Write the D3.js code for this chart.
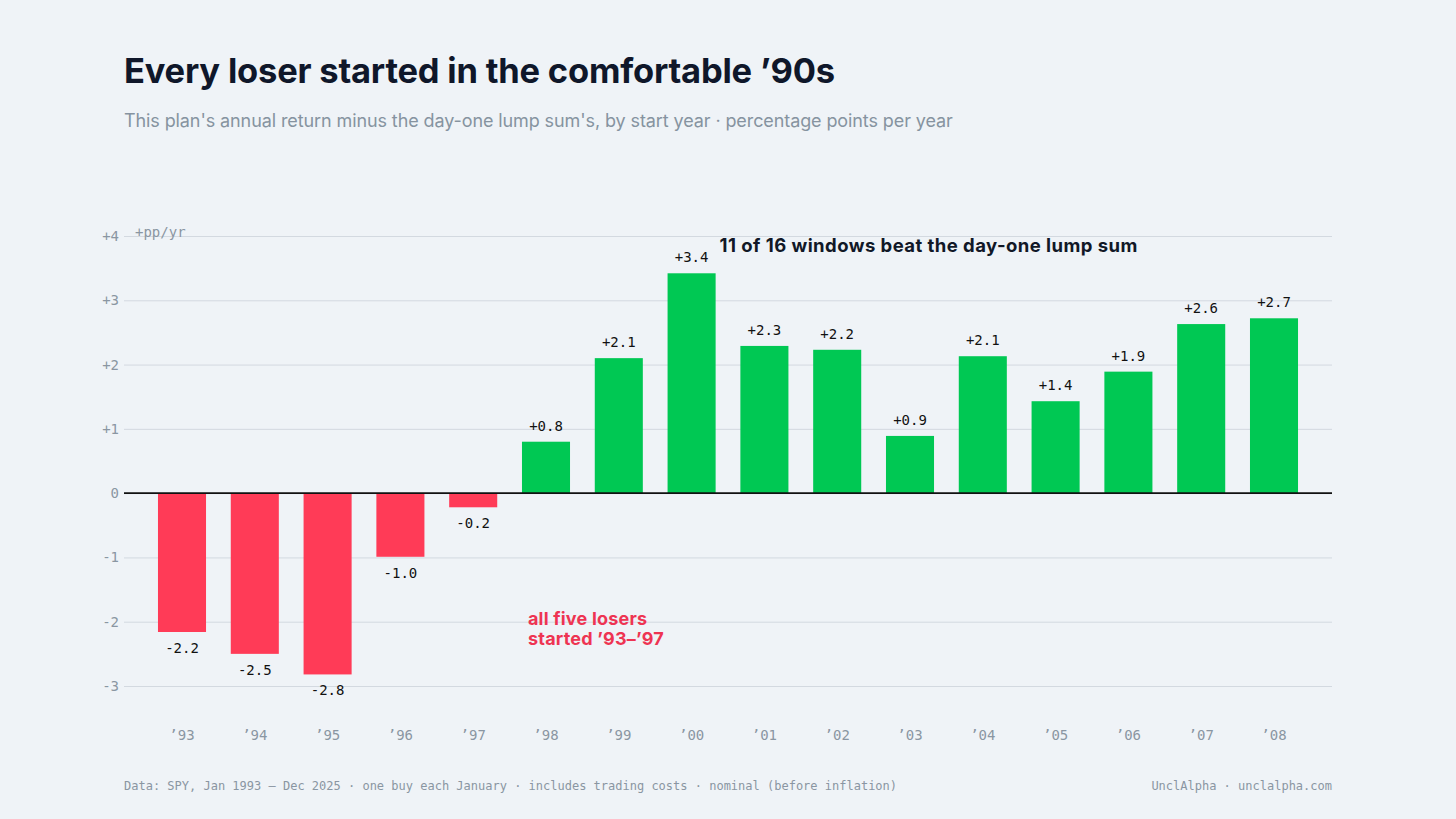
<!DOCTYPE html>
<html>
<head>
<meta charset="utf-8">
<title>Every loser started in the comfortable '90s</title>
<script src="https://d3js.org/d3.v7.min.js"></script>
<style>
  html, body { margin: 0; padding: 0; background: #eff3f7; }
  svg { display: block; }
</style>
</head>
<body>
<script>
// start years and excess return vs lump sum (pp per year)
const years = ["\u201993", "\u201994", "\u201995", "\u201996", "\u201997", "\u201998", "\u201999", "\u201900",
               "\u201901", "\u201902", "\u201903", "\u201904", "\u201905", "\u201906", "\u201907", "\u201908"];
const excess = [-2.16, -2.5, -2.82, -0.99, -0.22, 0.8, 2.1, 3.42, 2.29, 2.23, 0.89, 2.13, 1.43, 1.89, 2.63, 2.72];
const yTicks = [-3, -2, -1, 0, 1, 2, 3, 4];

const W = 1456, H = 819;
const mono = "'DejaVu Sans Mono', monospace";
const sans = "Inter, 'Noto Sans', sans-serif";

const svg = d3.select("body").append("svg")
    .attr("width", W).attr("height", H);

svg.append("rect").attr("width", W).attr("height", H).attr("fill", "#eff3f7");

const left = 124, right = 1332;

const x = d3.scaleBand()
    .domain(years)
    .range([145.6, 1310.4])
    .paddingInner(0.34)
    .paddingOuter(0.17);

const y = d3.scaleLinear()
    .domain([-3, 4])
    .range([686, 236]);

// titles
svg.append("text")
    .attr("x", left).attr("y", 83)
    .attr("font-family", sans).attr("font-weight", 700).attr("font-size", 34.5)
    .attr("fill", "#0f172a").attr("letter-spacing", "-0.2")
    .text("Every loser started in the comfortable \u201990s");

svg.append("text")
    .attr("x", left).attr("y", 127)
    .attr("font-family", sans).attr("font-size", 18)
    .attr("fill", "#8693a0").attr("letter-spacing", "-0.1")
    .text("This plan's annual return minus the day-one lump sum's, by start year \u00b7 percentage points per year");

// grid + y axis
const yAxis = d3.axisLeft(y)
    .tickValues(yTicks)
    .tickSize(-(right - left))
    .tickPadding(5)
    .tickFormat(d => d > 0 ? "+" + d : (d < 0 ? "-" + Math.abs(d) : "0"));

const gy = svg.append("g")
    .attr("transform", `translate(${left},0)`)
    .call(yAxis);
gy.select(".domain").remove();
gy.selectAll(".tick line").attr("stroke", "#d3d9e0").attr("stroke-width", 1);
gy.selectAll(".tick text")
    .attr("font-family", mono).attr("font-size", 14).attr("fill", "#8a96a2");

svg.append("text")
    .attr("x", 135).attr("y", y(4) + 1)
    .attr("font-family", mono).attr("font-size", 14).attr("fill", "#8a96a2")
    .text("+pp/yr");

// bars
svg.append("g").selectAll("rect")
    .data(excess)
    .join("rect")
    .attr("x", (d, i) => x(years[i]))
    .attr("width", x.bandwidth())
    .attr("y", d => y(Math.max(0, d)))
    .attr("height", d => Math.abs(y(d) - y(0)))
    .attr("fill", d => d < 0 ? "#ff3b57" : "#00c853");

// zero line
svg.append("line")
    .attr("x1", left).attr("x2", right)
    .attr("y1", y(0)).attr("y2", y(0))
    .attr("stroke", "#111").attr("stroke-width", 1.6);

// value labels
svg.append("g").selectAll("text")
    .data(excess)
    .join("text")
    .attr("x", (d, i) => x(years[i]) + x.bandwidth() / 2)
    .attr("y", d => d < 0 ? y(d) + 21 : y(d) - 11)
    .attr("text-anchor", "middle")
    .attr("font-family", mono).attr("font-size", 14).attr("fill", "#111")
    .text(d => (d > 0 ? "+" : "-") + Math.abs(d).toFixed(1));

// x axis labels
const xAxis = d3.axisBottom(x).tickSize(0).tickPadding(0);
const gx = svg.append("g")
    .attr("transform", `translate(0,${y(-3) + 54})`)
    .call(xAxis);
gx.select(".domain").remove();
gx.selectAll(".tick text")
    .attr("font-family", mono).attr("font-size", 14).attr("fill", "#8a96a2")
    .attr("dy", 0);

// annotations
svg.append("text")
    .attr("x", x(years[7]) + x.bandwidth() + 4).attr("y", y(4) + 16)
    .attr("font-family", sans).attr("font-weight", 700).attr("font-size", 18.5)
    .attr("fill", "#111827").attr("letter-spacing", "0.45")
    .text("11 of 16 windows beat the day-one lump sum");

const note = svg.append("text")
    .attr("x", x(years[5]) + 6).attr("y", y(-2) + 3)
    .attr("font-family", sans).attr("font-weight", 700).attr("font-size", 18)
    .attr("fill", "#ee3452").attr("letter-spacing", "0.2");
note.append("tspan").attr("x", x(years[5]) + 6).text("all five losers");
note.append("tspan").attr("x", x(years[5]) + 6).attr("dy", 20).text("started \u201993\u2013\u201997");

// footer
svg.append("text")
    .attr("x", left).attr("y", 790)
    .attr("font-family", mono).attr("font-size", 12).attr("fill", "#8a96a2")
    .text("Data: SPY, Jan 1993 \u2013 Dec 2025 \u00b7 one buy each January \u00b7 includes trading costs \u00b7 nominal (before inflation)");

svg.append("text")
    .attr("x", right).attr("y", 790)
    .attr("text-anchor", "end")
    .attr("font-family", mono).attr("font-size", 12).attr("fill", "#8a96a2")
    .text("UnclAlpha \u00b7 unclalpha.com");
</script>
</body>
</html>
